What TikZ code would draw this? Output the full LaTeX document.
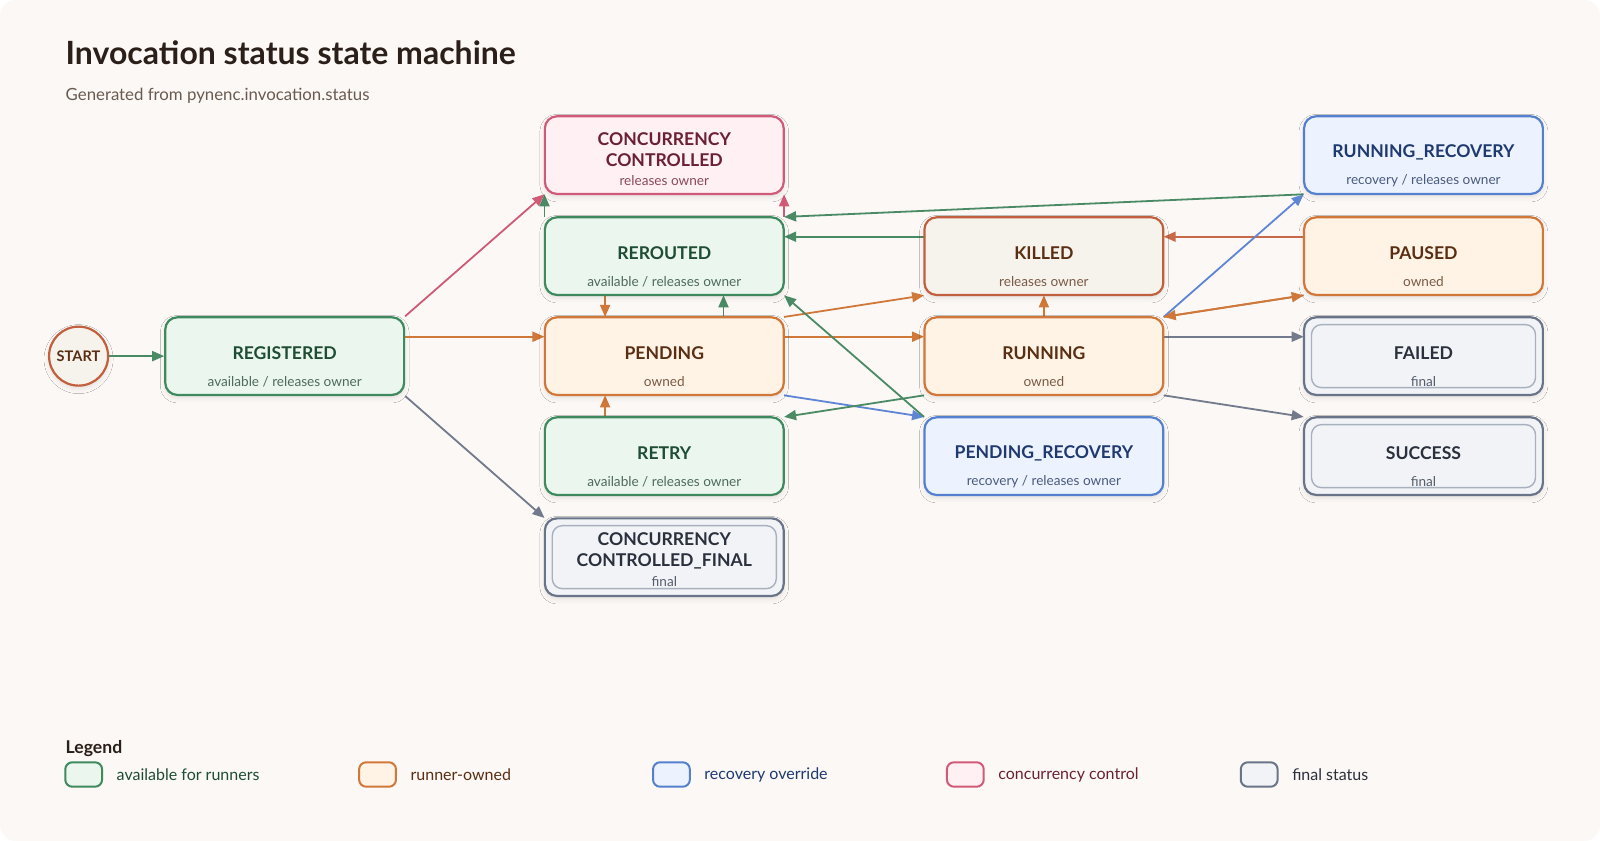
\documentclass[tikz,border=0pt]{standalone}
\usepackage{fontspec}
\setmainfont{Lato}
\usetikzlibrary{arrows.meta,shadows.blur}
\definecolor{bg}{HTML}{FBF8F5}
\definecolor{gB}{HTML}{3E8A5E}\definecolor{gF}{HTML}{EAF6EE}\definecolor{gT}{HTML}{1F4D33}\definecolor{gS}{HTML}{4F6B5B}
\definecolor{oB}{HTML}{D0773A}\definecolor{oF}{HTML}{FFF3E5}\definecolor{oT}{HTML}{5A2E12}\definecolor{oS}{HTML}{7A5A45}
\definecolor{kB}{HTML}{C0603F}\definecolor{kF}{HTML}{F6F2EC}
\definecolor{bB}{HTML}{5580D0}\definecolor{bF}{HTML}{EDF3FE}\definecolor{bT}{HTML}{1F3A70}\definecolor{bS}{HTML}{4A5A80}
\definecolor{pB}{HTML}{D05A78}\definecolor{pF}{HTML}{FFF0F3}\definecolor{pT}{HTML}{6A2035}\definecolor{pS}{HTML}{8A4A5C}
\definecolor{xB}{HTML}{6A7488}\definecolor{xF}{HTML}{F1F3F7}\definecolor{xI}{HTML}{A8AFBD}\definecolor{xT}{HTML}{2A303C}\definecolor{xS}{HTML}{555C6A}
\definecolor{aG}{HTML}{4A8A64}\definecolor{aO}{HTML}{D0773A}\definecolor{aP}{HTML}{CF5B77}\definecolor{aB}{HTML}{5E86D4}\definecolor{aX}{HTML}{727A8C}\definecolor{aK}{HTML}{C8694A}
\definecolor{titleC}{HTML}{2B1F1A}\definecolor{subC}{HTML}{6A5A50}
\tikzset{
 ph/.style={rectangle,minimum width=119.4pt,minimum height=38.8pt,inner sep=0pt},
 box/.style={ph,draw,line width=1.1pt,rounded corners=6pt,
   blur shadow={shadow blur steps=5,shadow opacity=10,shadow xshift=0pt,shadow yshift=-1.5pt,shadow blur radius=2.5pt}},
 green/.style={box,draw=gB,fill=gF},
 orange/.style={box,draw=oB,fill=oF},
 killed/.style={box,draw=kB,fill=kF},
 blue/.style={box,draw=bB,fill=bF},
 pink/.style={box,draw=pB,fill=pF},
 final/.style={box,draw=xB,fill=xF},
 inner/.style={rectangle,inner sep=0pt,draw=xI,line width=0.7pt,rounded corners=5pt,minimum width=112pt,minimum height=31.5pt},
 ttl/.style={font=\bfseries\fontsize{8.8}{10.6}\selectfont,align=center},
 sub/.style={font=\fontsize{6.8}{8}\selectfont},
 e/.style={line width=0.9pt,-{Triangle[length=6pt,width=5pt]}},
}
\newcommand{\mkstate}[7]{%
 \node[#4] (#1) at (#2,#3) {};
 \node[ttl,text=#7T] (#1-t) at (#2,#3-3) {#5};
 \node[sub,text=#7S] (#1-s) at (#2,#3+25) {#6};}
\begin{document}
\begin{tikzpicture}[x=0.5102pt,y=-0.5102pt]
\useasboundingbox (0,0) rectangle (1568,824);
\fill[white] (0,0) rectangle (1568,824);
\fill[bg,rounded corners=8pt] (0,0) rectangle (1568,824);
\node[anchor=base west,inner sep=0pt,font=\bfseries\fontsize{16}{18}\selectfont,text=titleC] (title) at (64,63) {Invocation status state machine};
\node[anchor=base west,inner sep=0pt,font=\fontsize{8.4}{10}\selectfont,text=subC] (subtitle) at (64,98) {Generated from pynenc.invocation.status};

\node[circle,draw=kB,fill=kF,line width=1.1pt,minimum size=29.5pt,inner sep=0pt,font=\bfseries\fontsize{7.3}{8}\selectfont,text=oT,
  blur shadow={shadow blur steps=5,shadow opacity=10,shadow xshift=0pt,shadow yshift=-1.5pt,shadow blur radius=2.5pt}] (start) at (77,349) {START};
\mkstate{reg}{279}{349}{green}{REGISTERED}{available / releases owner}{g}
\node[ph] (cc) at (651,152) {};
\node[ph] (rer) at (651,251) {};
\node[ph] (pend) at (651,349) {};
\node[ph] (retry) at (651,447) {};
\node[ph] (ccf) at (651,546) {};
\node[ph] (kill) at (1023,251) {};
\node[ph] (run) at (1023,349) {};
\node[ph] (prec) at (1023,447) {};
\node[ph] (rrec) at (1395,152) {};
\node[ph] (paus) at (1395,251) {};
\node[ph] (fail) at (1395,349) {};
\node[ph] (succ) at (1395,447) {};

\draw[e,aP] (rer.north east) -- (cc.south east);
\draw[e,aG] (start.east) -- (reg.west);
\draw[e,aP] (reg.north east) -- (cc.south west);
\draw[e,aO] ([yshift=9.7pt]reg.east) -- ([yshift=9.7pt]pend.west);
\draw[e,aX] (reg.south east) -- (ccf.north west);
\draw[e,aG] (rer.north west) -- (cc.south west);
\draw[e,aG] (rrec.south west) -- (rer.north east);
\draw[e,aG] ([yshift=9.7pt]kill.west) -- ([yshift=9.7pt]rer.east);
\draw[e,aK] ([yshift=9.7pt]paus.west) -- ([yshift=9.7pt]kill.east);
\draw[e,aO] ([xshift=-29.6pt]rer.south) -- ([xshift=-29.6pt]pend.north);
\draw[e,aG] ([xshift=29.6pt]pend.north) -- ([xshift=29.6pt]rer.south);
\draw[e,aO] (pend.north east) -- (kill.south west);
\draw[e,aO] ([yshift=9.7pt]pend.east) -- ([yshift=9.7pt]run.west);
\draw[e,aB] (pend.south east) -- (prec.north west);
\draw[e,aG] (prec.north west) -- (rer.south east);
\draw[e,aG] (run.south west) -- (retry.north east);
\draw[e,aO] ([xshift=-29.6pt]retry.north) -- ([xshift=-29.6pt]pend.south);
\draw[e,aO] (run.north) -- (kill.south);
\draw[e,aB] (run.north east) -- (rrec.south west);
\draw[e,aO] (run.north east) -- (paus.south west);
\draw[e,aO] (paus.south west) -- (run.north east);
\draw[e,aX] ([yshift=9.7pt]run.east) -- ([yshift=9.7pt]fail.west);
\draw[e,aX] (run.south east) -- (succ.north west);

\node[pink] (ccb) at (651,152) {};
\node[ttl,text=pT] (cc-t) at (651,147) {CONCURRENCY\\CONTROLLED};
\node[sub,text=pS] (cc-s) at (651,177) {releases owner};
\mkstate{rerb}{651}{251}{green}{REROUTED}{available / releases owner}{g}
\mkstate{pendb}{651}{349}{orange}{PENDING}{owned}{o}
\mkstate{retryb}{651}{447}{green}{RETRY}{available / releases owner}{g}
\node[final] (ccfb) at (651,546) {};
\node[inner] (ccfi) at (651,546) {};
\node[ttl,text=xT] (ccf-t) at (651,540) {CONCURRENCY\\CONTROLLED\_FINAL};
\node[sub,text=xS] (ccf-s) at (651,570) {final};
\mkstate{killb}{1023}{251}{killed}{KILLED}{releases owner}{o}
\mkstate{runb}{1023}{349}{orange}{RUNNING}{owned}{o}
\mkstate{precb}{1023}{447}{blue}{PENDING\_RECOVERY}{recovery / releases owner}{b}
\mkstate{rrecb}{1395}{152}{blue}{RUNNING\_RECOVERY}{recovery / releases owner}{b}
\mkstate{pausb}{1395}{251}{orange}{PAUSED}{owned}{o}
\node[final] (failb) at (1395,349) {};
\node[inner] (faili) at (1395,349) {};
\node[ttl,text=xT] (fail-t) at (1395,346) {FAILED};
\node[sub,text=xS] (fail-s) at (1395,374) {final};
\node[final] (succb) at (1395,447) {};
\node[inner] (succi) at (1395,447) {};
\node[ttl,text=xT] (succ-t) at (1395,444) {SUCCESS};
\node[sub,text=xS] (succ-s) at (1395,472) {final};

\node[anchor=base west,inner sep=0pt,font=\bfseries\fontsize{8.8}{10}\selectfont,text=titleC] (leg) at (64,738) {Legend};
\tikzset{sw/.style={draw,line width=1pt,rounded corners=3.5pt,minimum width=18.4pt,minimum height=12.2pt,inner sep=0pt},
  lt/.style={anchor=west,inner sep=0pt,font=\fontsize{8}{9}\selectfont}}
\node[sw,draw=gB,fill=gF] (l1) at (82,759) {};
\node[lt,text=gT] (l1t) at (114,759) {available for runners};
\node[sw,draw=oB,fill=oF] (l2) at (370,759) {};
\node[lt,text=oT] (l2t) at (402,759) {runner-owned};
\node[sw,draw=bB,fill=bF] (l3) at (658,759) {};
\node[lt,text=bT] (l3t) at (690,759) {recovery override};
\node[sw,draw=pB,fill=pF] (l4) at (946,759) {};
\node[lt,text=pT] (l4t) at (978,759) {concurrency control};
\node[sw,draw=xB,fill=xF] (l5) at (1234,759) {};
\node[lt,text=xT] (l5t) at (1266,759) {final status};
\end{tikzpicture}
\end{document}
